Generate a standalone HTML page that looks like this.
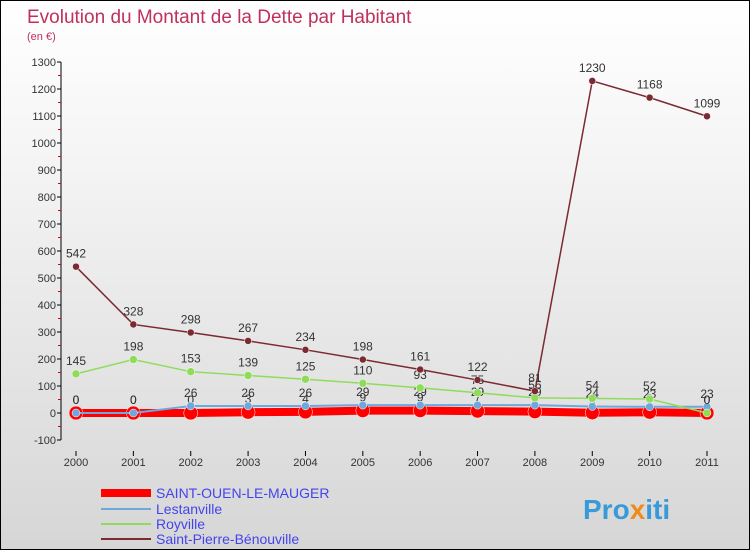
<!DOCTYPE html>
<html><head><meta charset="utf-8"><style>
body{margin:0}
#c{width:748px;height:548px;border:1px solid #000;background:linear-gradient(#fff,#f4f4f4 30%,#d6d6d6);position:relative;font-family:"Liberation Sans",sans-serif}
</style></head><body>
<div id="c">
<svg id="s" width="748" height="548" xmlns="http://www.w3.org/2000/svg" font-family="Liberation Sans, sans-serif">
<text x="26" y="22" font-size="19" fill="#c0305a">Evolution du Montant de la Dette par Habitant</text>
<text x="26" y="39" font-size="11" fill="#c0305a">(en €)</text>
<g id="ax"></g><g id="pl"></g>
<g font-size="14" fill="#4444ee">
<line x1="100" y1="492" x2="150" y2="492" stroke="#f00" stroke-width="8"/><text x="155" y="497">SAINT-OUEN-LE-MAUGER</text>
<line x1="100" y1="508" x2="150" y2="508" stroke="#6fa8dc" stroke-width="2"/><text x="155" y="513">Lestanville</text>
<line x1="100" y1="523" x2="150" y2="523" stroke="#8fdc5a" stroke-width="2"/><text x="155" y="528">Royville</text>
<line x1="100" y1="538" x2="150" y2="538" stroke="#7a2a30" stroke-width="2"/><text x="155" y="543">Saint-Pierre-Bénouville</text>
</g>
<text x="582" y="518" font-size="28" font-weight="bold"><tspan fill="#3a9ad8">Pro</tspan><tspan fill="#f08a1c">x</tspan><tspan fill="#3a9ad8">iti</tspan></text>
</svg></div>
<script>
const years=[2000,2001,2002,2003,2004,2005,2006,2007,2008,2009,2010,2011];
const yTicks=[-100,0,100,200,300,400,500,600,700,800,900,1000,1100,1200,1300];
const saintOuen=[0,0,0,3,4,9,9,7,5,1,3,0];
const lestanville=[0,0,26,26,26,29,29,29,29,24,23,23];
const royville=[145,198,153,139,125,110,93,75,56,54,52,0];
const saintPierre=[542,328,298,267,234,198,161,122,81,1230,1168,1099];
const NS="http://www.w3.org/2000/svg";
const X=i=>75+i*(706-75)/11, Y=v=>412-v*0.27;
function mk(t,a,p){const e=document.createElementNS(NS,t);for(const k in a)e.setAttribute(k,a[k]);p.appendChild(e);return e;}
const ax=document.getElementById('ax'),pl=document.getElementById('pl');
const yl=mk('line',{x1:60,y1:Y(1300),x2:60,y2:Y(-100),stroke:'#000'},ax);


yTicks.forEach(v=>{mk('line',{x1:56,y1:Y(v),x2:60,y2:Y(v),stroke:'#000'},ax);
if(v<1300)mk('line',{x1:57,y1:Y(v+50),x2:60,y2:Y(v+50),stroke:'#d00'},ax);
const t=mk('text',{x:55,y:Y(v)+4,'text-anchor':'end','font-size':11,fill:'#333'},ax);t.textContent=v;

});
years.forEach((y,i)=>{mk('line',{x1:X(i),y1:450,x2:X(i),y2:455,stroke:'#000'},ax);
const t=mk('text',{x:X(i),y:465,'text-anchor':'middle','font-size':11,fill:'#333'},ax);t.textContent=y;

});
function series(d,col,w,r,name){const g=mk('g',{},pl);


mk('polyline',{points:d.map((v,i)=>X(i)+','+Y(v)).join(' '),fill:'none',stroke:col,'stroke-width':w},g);
d.forEach((v,i)=>{const c=mk('circle',{cx:X(i),cy:Y(v),r:r,fill:col,stroke:'#fff','stroke-width':0.5},g);


const t=mk('text',{x:X(i),y:Y(v)-9,'text-anchor':'middle','font-size':12,fill:'#333'},g);t.textContent=v;});}
series(saintOuen,'#f00',8,7,'series-saint-ouen');
series(lestanville,'#6fa8dc',2,4,'series-lestanville');
series(royville,'#8fdc5a',1.5,4,'series-royville');
series(saintPierre,'#7a2a30',1.5,3.5,'series-saint-pierre');
</script></body></html>
